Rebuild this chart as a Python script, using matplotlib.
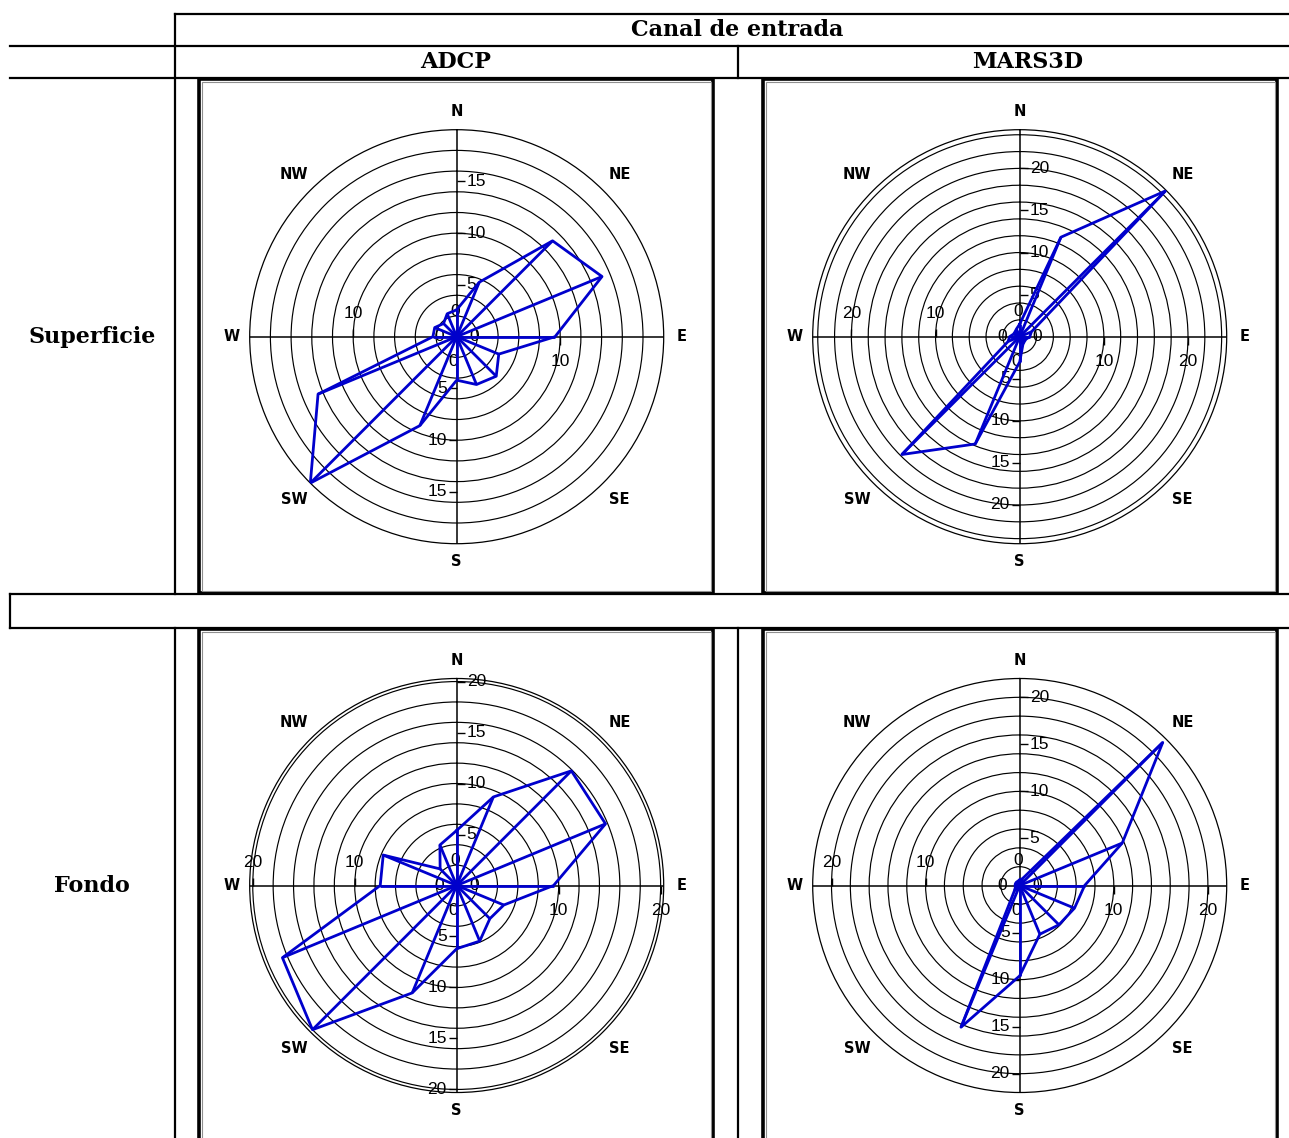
import numpy as np
import matplotlib.pyplot as plt
from matplotlib.patches import Rectangle

# Current-direction roses (16 sectors, clockwise from north)
DIRS = ['N', 'NNE', 'NE', 'ENE', 'E', 'ESE', 'SE', 'SSE',
        'S', 'SSW', 'SW', 'WSW', 'W', 'WNW', 'NW', 'NNW']
ANGLES = np.arange(16) * 22.5

adcp_superficie = [2.6, 5.7, 13.1, 15.2, 9.5, 4.4, 5.4, 5.0,
                   4.2, 9.3, 20.0, 14.5, 2.3, 2.3, 1.8, 2.4]
mars_superficie = [1.5, 12.8, 24.5, 1.5, 1.2, 0.8, 0.8, 1.0,
                   3.0, 13.8, 19.8, 1.5, 1.2, 0.8, 0.8, 1.0]
adcp_fondo = [5.4, 9.4, 15.9, 15.8, 9.5, 5.0, 4.6, 5.9,
              6.2, 11.4, 20.0, 18.5, 7.5, 7.8, 2.3, 4.3]
mars_fondo = [0.6, 0.8, 21.5, 11.8, 6.9, 6.3, 5.9, 5.6,
              9.6, 16.3, 0.8, 0.5, 0.5, 0.5, 0.5, 0.5]

# radial axis maxima and labelled ticks
rmax_list = [20.0, 24.6, 20.3, 22.0]
ns_ticks = [[5, 10, 15], [5, 10, 15, 20], [5, 10, 15, 20], [5, 10, 15, 20]]
ew_ticks = [[10], [10, 20], [10, 20], [10, 20]]

col_titles = ['ADCP', 'MARS3D']
row_titles = ['Superficie', 'Fondo']
header = 'Canal de entrada'

BLUE = '#0000cc'
W, H = 1289, 1138
R = 207  # rose radius in pixels

fig = plt.figure(figsize=(W / 100, H / 100), dpi=100)
bg = fig.add_axes([0, 0, 1, 1])
bg.set_xlim(0, W)
bg.set_ylim(H, 0)
bg.axis('off')


def line(x0, y0, x1, y1, lw=1.6):
    bg.plot([x0, x1], [y0, y1], color='black', lw=lw, solid_capstyle='projecting')


# table grid
line(175, 14, W, 14)
line(10, 46, W, 46)
line(10, 78, W, 78)
line(175, 14, 175, 594)
line(175, 628, 175, H)
line(738, 46, 738, 78)
line(738, 628, 738, H)
line(10, 594, W, 594)
line(10, 628, W, 628)
line(10, 594, 10, 628)

# plot frames
for fx, fy in [(199, 79), (763, 79), (199, 629), (763, 629)]:
    bg.add_patch(Rectangle((fx, fy), 514, 514, fill=False, ec='black', lw=2.6))
    bg.add_patch(Rectangle((fx + 2.5, fy + 2.5), 509, 509, fill=False, ec='#909090', lw=0.8))

tfont = dict(family='DejaVu Serif', fontweight='bold', fontsize=16, ha='center', va='center')
bg.text(737, 30, header, **tfont)
bg.text(456, 62, col_titles[0], **tfont)
bg.text(1028, 62, col_titles[1], **tfont)
bg.text(92, 337, row_titles[0], **tfont)
bg.text(92, 886, row_titles[1], **tfont)

centers = [(456.7, 336.7), (1019.7, 336.7), (456.7, 885.5), (1019.7, 885.5)]
datasets = [adcp_superficie, mars_superficie, adcp_fondo, mars_fondo]

nfont = dict(family='Liberation Sans', fontsize=12.5, zorder=2.5)


def rose(cx, cy, values, rmax, nst, ewt):
    ax = fig.add_axes([(cx - R) / W, 1 - (cy + R) / H, 2 * R / W, 2 * R / H],
                      projection='polar')
    ax.set_theta_zero_location('N')
    ax.set_theta_direction(-1)
    ax.set_ylim(0, rmax)
    ax.set_yticks(np.arange(2, rmax, 2))
    ax.set_yticklabels([])
    ax.set_xticks(np.radians([0, 90, 180, 270]))
    ax.set_xticklabels([])
    ax.tick_params(length=0)
    ax.yaxis.grid(True, color='black', lw=0.85, ls='-')
    ax.xaxis.grid(True, color='black', lw=1.1, ls='-')
    ax.spines['polar'].set_color('black')
    ax.spines['polar'].set_linewidth(0.9)

    th = np.radians(ANGLES)
    v = np.asarray(values)
    ax.plot(np.append(th, th[0]), np.append(v, v[0]), color=BLUE, lw=2.0, zorder=3)
    ax.vlines(th, 0, v, color=BLUE, lw=2.0, zorder=3)

    # compass points
    for name, ang in zip(['N', 'NE', 'E', 'SE', 'S', 'SW', 'W', 'NW'], range(0, 360, 45)):
        rr = rmax * (225 if ang % 90 == 0 else 230) / R
        ax.text(np.radians(ang), rr, name, ha='center', va='center', family='DejaVu Sans',
                fontweight='bold', fontsize=10.5, clip_on=False)

    # axis ticks and labels
    ax.plot([0] * len(nst), nst, ls='none', marker=1, ms=6, mew=1, color='black', clip_on=False)
    ax.plot([np.pi] * len(nst), nst, ls='none', marker=0, ms=6, mew=1, color='black', clip_on=False)
    ax.plot([1.5 * np.pi] * len(ewt), ewt, ls='none', marker=2, ms=6, mew=1, color='black', clip_on=False)
    ax.plot([0.5 * np.pi] * len(ewt), ewt, ls='none', marker=3, ms=6, mew=1, color='black', clip_on=False)
    for t in nst:
        ax.annotate(str(t), xy=(0, t), xytext=(10, 0), textcoords='offset pixels',
                    ha='left', va='center', annotation_clip=False, **nfont)
        ax.annotate(str(t), xy=(np.pi, t), xytext=(-10, 0), textcoords='offset pixels',
                    ha='right', va='center', annotation_clip=False, **nfont)
    for t in ewt:
        ax.annotate(str(t), xy=(1.5 * np.pi, t), xytext=(0, 23), textcoords='offset pixels',
                    ha='center', va='center', annotation_clip=False, **nfont)
        ax.annotate(str(t), xy=(0.5 * np.pi, t), xytext=(0, -25), textcoords='offset pixels',
                    ha='center', va='center', annotation_clip=False, **nfont)
    for dx, dy in [(-2, 25), (-4, -25), (-18, 0), (17, 0)]:
        ax.annotate('0', xy=(0, 0), xytext=(dx, dy), textcoords='offset pixels',
                    ha='center', va='center', annotation_clip=False, **nfont)
    return ax


for (cx, cy), vals, rm, nst, ewt in zip(centers, datasets, rmax_list, ns_ticks, ew_ticks):
    rose(cx, cy, vals, rm, nst, ewt)

fig.savefig('out.png', dpi=100)
